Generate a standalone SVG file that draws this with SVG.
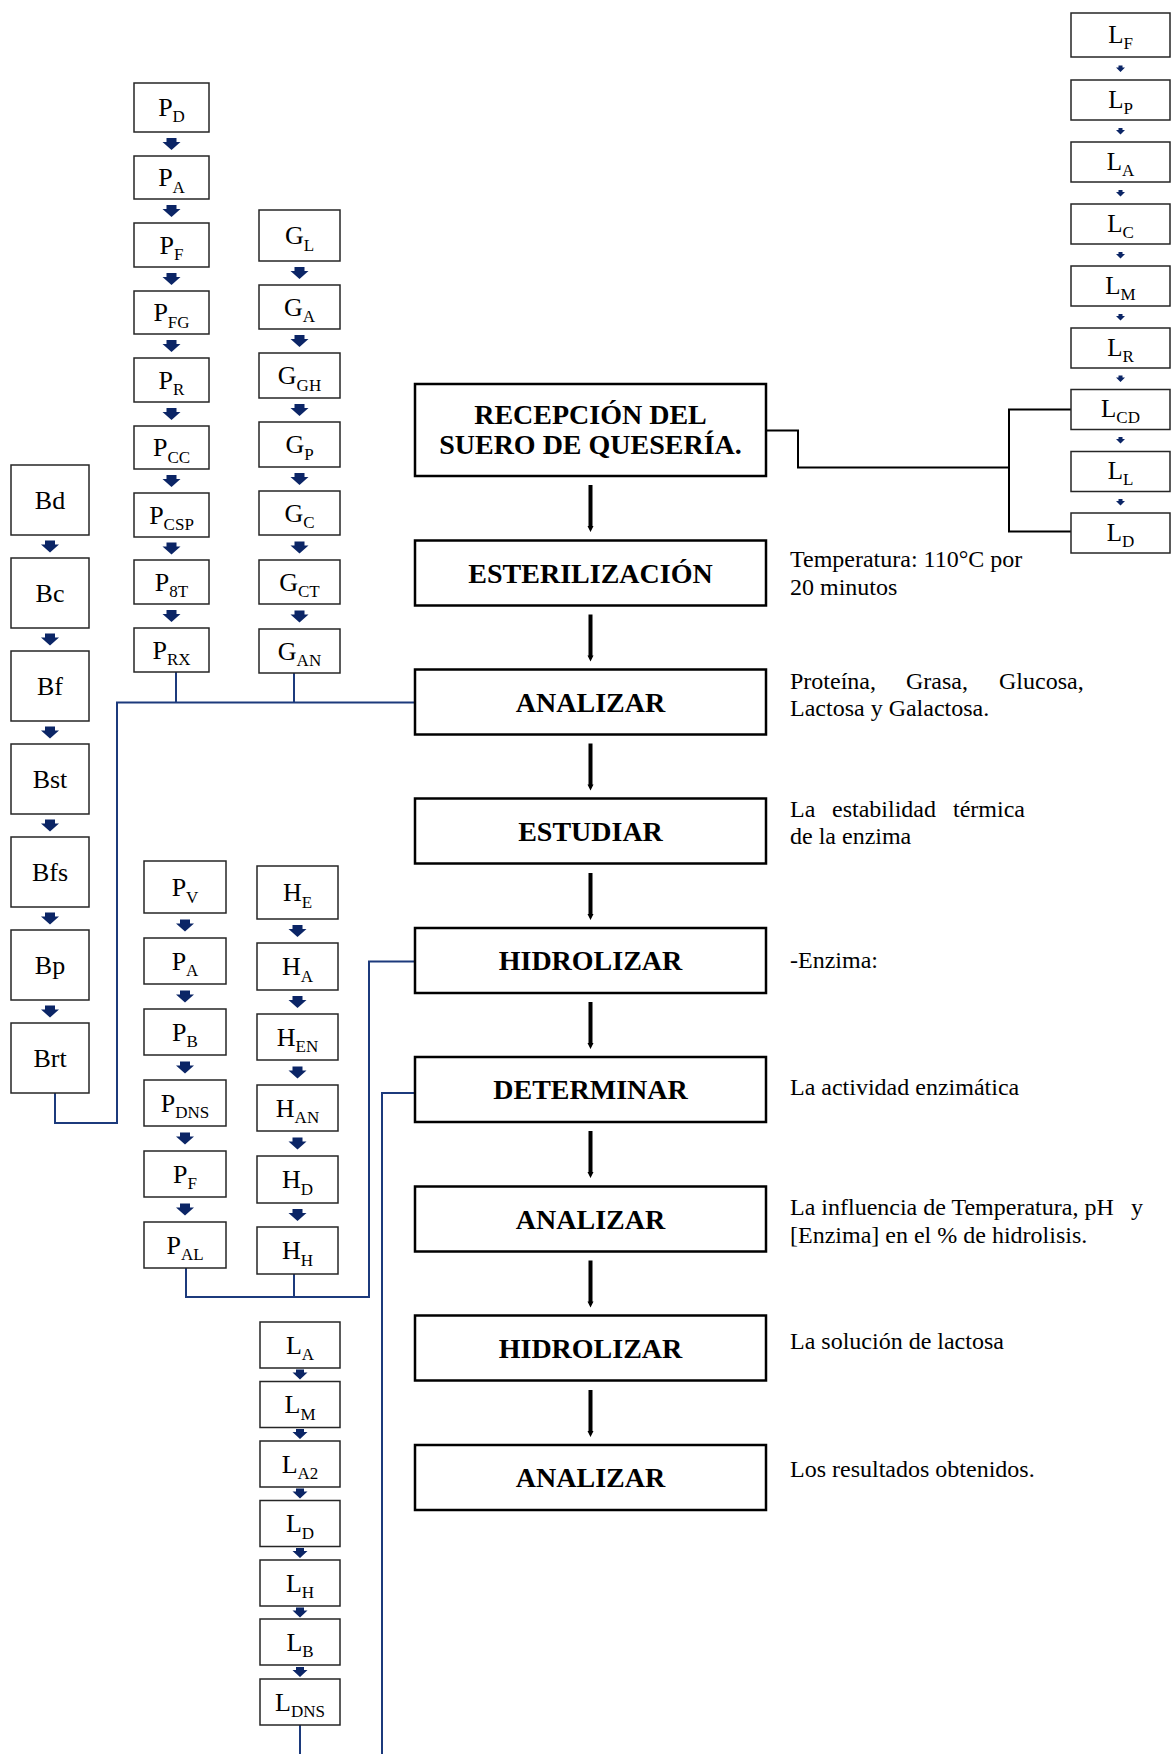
<svg xmlns="http://www.w3.org/2000/svg" xmlns:xlink="http://www.w3.org/1999/xlink" width="1171" height="1754" viewBox="0 0 1171 1754">
<style>
.mb{fill:#fff;stroke:#000;stroke-width:2.5}
.sb{fill:#fff;stroke:#262626;stroke-width:1.5}
.mt{font-family:"Liberation Serif","Times New Roman",serif;font-weight:bold;font-size:28px;text-anchor:middle;fill:#000}
.st{font-family:"Liberation Serif","Times New Roman",serif;font-size:26px;text-anchor:middle;fill:#000}
.sr{font-size:25px}
.sub{font-size:17px}
.bt{font-family:"Liberation Serif","Times New Roman",serif;font-size:26px;text-anchor:middle;fill:#000}
.side{font-family:"Liberation Serif","Times New Roman",serif;font-size:24px;fill:#000}
.bl{fill:none;stroke:#1c3a7c;stroke-width:2}
.bk{fill:none;stroke:#000;stroke-width:2}
.ar{fill:#0b2566}
.ma{fill:#000}
</style>
<defs>
<path id="a18" d="M-5,0 H5 V4 H9 L0,12 L-9,4 H-5 Z"/>
<path id="a15" d="M-4,0 H4 V3 H7.5 L0,10 L-7.5,3 H-4 Z"/>
<path id="a9" d="M-2,0 H2 V2 H4.5 L0,6.5 L-4.5,2 H-2 Z"/>
<path id="am" d="M-2,0 H2 V41 H3 L0,47 L-3,41 H-2 Z"/>
</defs>

<g id="connectors">
  <!-- main flow arrows -->
  <g class="ma">
    <use xlink:href="#am" x="590.5" y="485"/>
    <use xlink:href="#am" x="590.5" y="614.5"/>
    <use xlink:href="#am" x="590.5" y="743.5"/>
    <use xlink:href="#am" x="590.5" y="873"/>
    <use xlink:href="#am" x="590.5" y="1002"/>
    <use xlink:href="#am" x="590.5" y="1131"/>
    <use xlink:href="#am" x="590.5" y="1260.5"/>
    <use xlink:href="#am" x="590.5" y="1390"/>
  </g>
  <!-- reception to L column -->
  <path class="bk" d="M766,430.5 H798 V467.5 H1009"/>
  <path class="bk" d="M1071,409.5 H1009 V531.5 H1071"/>
  <!-- blue connectors -->
  <path class="bl" d="M176,672 V702.5 M294,673 V702.5 M55,1093 V1123 H117 V702.5 H415"/>
  <path class="bl" d="M186,1268 V1297 H369 V961.5 H415 M294,1274 V1297"/>
  <path class="bl" d="M415,1093 H382 V1754"/>
  <path class="bl" d="M300,1725 V1754"/>
  <!-- small blue arrows: P column -->
  <g class="ar">
    <use xlink:href="#a18" x="171.5" y="138"/>
    <use xlink:href="#a18" x="171.5" y="205"/>
    <use xlink:href="#a18" x="171.5" y="273"/>
    <use xlink:href="#a18" x="171.5" y="340"/>
    <use xlink:href="#a18" x="171.5" y="408"/>
    <use xlink:href="#a18" x="171.5" y="475"/>
    <use xlink:href="#a18" x="171.5" y="542.5"/>
    <use xlink:href="#a18" x="171.5" y="610"/>
    <!-- G column -->
    <use xlink:href="#a18" x="299.5" y="267"/>
    <use xlink:href="#a18" x="299.5" y="335"/>
    <use xlink:href="#a18" x="299.5" y="404"/>
    <use xlink:href="#a18" x="299.5" y="473"/>
    <use xlink:href="#a18" x="299.5" y="541.5"/>
    <use xlink:href="#a18" x="299.5" y="610.5"/>
    <!-- B column -->
    <use xlink:href="#a18" x="50" y="540.5"/>
    <use xlink:href="#a18" x="50" y="633.5"/>
    <use xlink:href="#a18" x="50" y="726.5"/>
    <use xlink:href="#a18" x="50" y="819.5"/>
    <use xlink:href="#a18" x="50" y="912.5"/>
    <use xlink:href="#a18" x="50" y="1005.5"/>
    <!-- P2 column -->
    <use xlink:href="#a18" x="185" y="919.5"/>
    <use xlink:href="#a18" x="185" y="990.5"/>
    <use xlink:href="#a18" x="185" y="1061.5"/>
    <use xlink:href="#a18" x="185" y="1132.5"/>
    <use xlink:href="#a18" x="185" y="1203.5"/>
    <!-- H column -->
    <use xlink:href="#a18" x="297.5" y="925"/>
    <use xlink:href="#a18" x="297.5" y="996"/>
    <use xlink:href="#a18" x="297.5" y="1066.5"/>
    <use xlink:href="#a18" x="297.5" y="1137.5"/>
    <use xlink:href="#a18" x="297.5" y="1209"/>
    <!-- L2 column -->
    <use xlink:href="#a15" x="300" y="1369.5"/>
    <use xlink:href="#a15" x="300" y="1429"/>
    <use xlink:href="#a15" x="300" y="1488.5"/>
    <use xlink:href="#a15" x="300" y="1548"/>
    <use xlink:href="#a15" x="300" y="1607.5"/>
    <use xlink:href="#a15" x="300" y="1667"/>
    <!-- L right column -->
    <use xlink:href="#a9" x="1120.5" y="65.5"/>
    <use xlink:href="#a9" x="1120.5" y="128"/>
    <use xlink:href="#a9" x="1120.5" y="190"/>
    <use xlink:href="#a9" x="1120.5" y="252"/>
    <use xlink:href="#a9" x="1120.5" y="314"/>
    <use xlink:href="#a9" x="1120.5" y="375.5"/>
    <use xlink:href="#a9" x="1120.5" y="437"/>
    <use xlink:href="#a9" x="1120.5" y="499"/>
  </g>
</g>

<!-- main process boxes -->
<g id="recepcion"><rect class="mb" x="415" y="384" width="351" height="92"/>
  <text class="mt" x="590.5" y="423.5">RECEPCIÓN DEL</text>
  <text class="mt" x="590.5" y="454">SUERO DE QUESERÍA.</text></g>
<g id="esterilizacion"><rect class="mb" x="415" y="540.5" width="351" height="65"/>
  <text class="mt" x="590.5" y="582.5">ESTERILIZACIÓN</text></g>
<g id="analizar1"><rect class="mb" x="415" y="669.5" width="351" height="65"/>
  <text class="mt" x="590.5" y="711.5">ANALIZAR</text></g>
<g id="estudiar"><rect class="mb" x="415" y="798.5" width="351" height="65"/>
  <text class="mt" x="590.5" y="840.5">ESTUDIAR</text></g>
<g id="hidrolizar1"><rect class="mb" x="415" y="928" width="351" height="65"/>
  <text class="mt" x="590.5" y="970">HIDROLIZAR</text></g>
<g id="determinar"><rect class="mb" x="415" y="1057" width="351" height="65"/>
  <text class="mt" x="590.5" y="1099">DETERMINAR</text></g>
<g id="analizar2"><rect class="mb" x="415" y="1186.5" width="351" height="65"/>
  <text class="mt" x="590.5" y="1228.5">ANALIZAR</text></g>
<g id="hidrolizar2"><rect class="mb" x="415" y="1315.5" width="351" height="65"/>
  <text class="mt" x="590.5" y="1357.5">HIDROLIZAR</text></g>
<g id="analizar3"><rect class="mb" x="415" y="1445" width="351" height="65"/>
  <text class="mt" x="590.5" y="1487">ANALIZAR</text></g>

<!-- side notes -->
<g id="notes" class="side">
  <text x="790" y="567">Temperatura: 110°C por</text>
  <text x="790" y="594.5">20 minutos</text>
  <text y="688.5"><tspan x="790">Proteína,</tspan><tspan x="906">Grasa,</tspan><tspan x="999">Glucosa,</tspan></text>
  <text x="790" y="716">Lactosa y Galactosa.</text>
  <text y="816.5"><tspan x="790">La</tspan><tspan x="832">estabilidad</tspan><tspan x="953">térmica</tspan></text>
  <text x="790" y="844">de la enzima</text>
  <text x="790" y="968">-Enzima:</text>
  <text x="790" y="1095">La actividad enzimática</text>
  <text y="1215"><tspan x="790">La influencia de Temperatura, pH</tspan><tspan x="1131">y</tspan></text>
  <text x="790" y="1242.5">[Enzima] en el % de hidrolisis.</text>
  <text x="790" y="1349">La solución de lactosa</text>
  <text x="790" y="1477">Los resultados obtenidos.</text>
</g>

<!-- P column -->
<g id="p-d"><rect class="sb" x="134" y="83" width="75" height="49"/><text class="st" x="171.5" y="115.5">P<tspan class="sub" dy="6.5">D</tspan></text></g>
<g id="p-a"><rect class="sb" x="134" y="156" width="75" height="43"/><text class="st" x="171.5" y="186">P<tspan class="sub" dy="6.5">A</tspan></text></g>
<g id="p-f"><rect class="sb" x="134" y="223" width="75" height="44"/><text class="st" x="171.5" y="253.5">P<tspan class="sub" dy="6.5">F</tspan></text></g>
<g id="p-fg"><rect class="sb" x="134" y="291" width="75" height="43"/><text class="st" x="171.5" y="321">P<tspan class="sub" dy="6.5">FG</tspan></text></g>
<g id="p-r"><rect class="sb" x="134" y="358" width="75" height="44"/><text class="st" x="171.5" y="388.5">P<tspan class="sub" dy="6.5">R</tspan></text></g>
<g id="p-cc"><rect class="sb" x="134" y="426" width="75" height="43"/><text class="st" x="171.5" y="456">P<tspan class="sub" dy="6.5">CC</tspan></text></g>
<g id="p-csp"><rect class="sb" x="134" y="493" width="75" height="44"/><text class="st" x="171.5" y="523.5">P<tspan class="sub" dy="6.5">CSP</tspan></text></g>
<g id="p-8t"><rect class="sb" x="134" y="560" width="75" height="44"/><text class="st" x="171.5" y="590.5">P<tspan class="sub" dy="6.5">8T</tspan></text></g>
<g id="p-rx"><rect class="sb" x="134" y="628" width="75" height="44"/><text class="st" x="171.5" y="658.5">P<tspan class="sub" dy="6.5">RX</tspan></text></g>

<!-- G column -->
<g id="g-l"><rect class="sb" x="259" y="210" width="81" height="51"/><text class="st" x="299.5" y="244">G<tspan class="sub" dy="6.5">L</tspan></text></g>
<g id="g-a"><rect class="sb" x="259" y="285" width="81" height="44"/><text class="st" x="299.5" y="315.5">G<tspan class="sub" dy="6.5">A</tspan></text></g>
<g id="g-gh"><rect class="sb" x="259" y="353" width="81" height="45"/><text class="st" x="299.5" y="384">G<tspan class="sub" dy="6.5">GH</tspan></text></g>
<g id="g-p"><rect class="sb" x="259" y="422" width="81" height="45"/><text class="st" x="299.5" y="453">G<tspan class="sub" dy="6.5">P</tspan></text></g>
<g id="g-c"><rect class="sb" x="259" y="491" width="81" height="44"/><text class="st" x="299.5" y="521.5">G<tspan class="sub" dy="6.5">C</tspan></text></g>
<g id="g-ct"><rect class="sb" x="259" y="560" width="81" height="44"/><text class="st" x="299.5" y="590.5">G<tspan class="sub" dy="6.5">CT</tspan></text></g>
<g id="g-an"><rect class="sb" x="259" y="629" width="81" height="44"/><text class="st" x="299.5" y="659.5">G<tspan class="sub" dy="6.5">AN</tspan></text></g>

<!-- B column -->
<g id="b-d"><rect class="sb" x="11" y="465" width="78" height="70"/><text class="bt" x="50" y="509">Bd</text></g>
<g id="b-c"><rect class="sb" x="11" y="558" width="78" height="70"/><text class="bt" x="50" y="602">Bc</text></g>
<g id="b-f"><rect class="sb" x="11" y="651" width="78" height="70"/><text class="bt" x="50" y="695">Bf</text></g>
<g id="b-st"><rect class="sb" x="11" y="744" width="78" height="70"/><text class="bt" x="50" y="788">Bst</text></g>
<g id="b-fs"><rect class="sb" x="11" y="837" width="78" height="70"/><text class="bt" x="50" y="881">Bfs</text></g>
<g id="b-p"><rect class="sb" x="11" y="930" width="78" height="70"/><text class="bt" x="50" y="974">Bp</text></g>
<g id="b-rt"><rect class="sb" x="11" y="1023" width="78" height="70"/><text class="bt" x="50" y="1067">Brt</text></g>

<!-- P2 column -->
<g id="p2-v"><rect class="sb" x="144" y="861" width="82" height="52"/><text class="st" x="185" y="896">P<tspan class="sub" dy="6.5">V</tspan></text></g>
<g id="p2-a"><rect class="sb" x="144" y="938" width="82" height="46"/><text class="st" x="185" y="969.5">P<tspan class="sub" dy="6.5">A</tspan></text></g>
<g id="p2-b"><rect class="sb" x="144" y="1009" width="82" height="46"/><text class="st" x="185" y="1040.5">P<tspan class="sub" dy="6.5">B</tspan></text></g>
<g id="p2-dns"><rect class="sb" x="144" y="1080" width="82" height="46"/><text class="st" x="185" y="1111.5">P<tspan class="sub" dy="6.5">DNS</tspan></text></g>
<g id="p2-f"><rect class="sb" x="144" y="1151" width="82" height="46"/><text class="st" x="185" y="1182.5">P<tspan class="sub" dy="6.5">F</tspan></text></g>
<g id="p2-al"><rect class="sb" x="144" y="1222" width="82" height="46"/><text class="st" x="185" y="1253.5">P<tspan class="sub" dy="6.5">AL</tspan></text></g>

<!-- H column -->
<g id="h-e"><rect class="sb" x="257" y="866" width="81" height="53"/><text class="st" x="297.5" y="901">H<tspan class="sub" dy="6.5">E</tspan></text></g>
<g id="h-a"><rect class="sb" x="257" y="943" width="81" height="47"/><text class="st" x="297.5" y="975">H<tspan class="sub" dy="6.5">A</tspan></text></g>
<g id="h-en"><rect class="sb" x="257" y="1014" width="81" height="46"/><text class="st" x="297.5" y="1045.5">H<tspan class="sub" dy="6.5">EN</tspan></text></g>
<g id="h-an"><rect class="sb" x="257" y="1085" width="81" height="46"/><text class="st" x="297.5" y="1116.5">H<tspan class="sub" dy="6.5">AN</tspan></text></g>
<g id="h-d"><rect class="sb" x="257" y="1156" width="81" height="47"/><text class="st" x="297.5" y="1188">H<tspan class="sub" dy="6.5">D</tspan></text></g>
<g id="h-h"><rect class="sb" x="257" y="1227" width="81" height="47"/><text class="st" x="297.5" y="1259">H<tspan class="sub" dy="6.5">H</tspan></text></g>

<!-- L2 column -->
<g id="l2-a"><rect class="sb" x="260" y="1322" width="80" height="46"/><text class="st" x="300" y="1353.5">L<tspan class="sub" dy="6.5">A</tspan></text></g>
<g id="l2-m"><rect class="sb" x="260" y="1381.5" width="80" height="46"/><text class="st" x="300" y="1413">L<tspan class="sub" dy="6.5">M</tspan></text></g>
<g id="l2-a2"><rect class="sb" x="260" y="1441" width="80" height="46"/><text class="st" x="300" y="1472.5">L<tspan class="sub" dy="6.5">A2</tspan></text></g>
<g id="l2-d"><rect class="sb" x="260" y="1500.5" width="80" height="46"/><text class="st" x="300" y="1532">L<tspan class="sub" dy="6.5">D</tspan></text></g>
<g id="l2-h"><rect class="sb" x="260" y="1560" width="80" height="46"/><text class="st" x="300" y="1591.5">L<tspan class="sub" dy="6.5">H</tspan></text></g>
<g id="l2-b"><rect class="sb" x="260" y="1619" width="80" height="46"/><text class="st" x="300" y="1650.5">L<tspan class="sub" dy="6.5">B</tspan></text></g>
<g id="l2-dns"><rect class="sb" x="260" y="1679" width="80" height="46"/><text class="st" x="300" y="1710.5">L<tspan class="sub" dy="6.5">DNS</tspan></text></g>

<!-- L right column -->
<g id="lr-f"><rect class="sb" x="1071" y="13" width="99" height="44"/><text class="st sr" x="1120.5" y="42.5">L<tspan class="sub" dy="6">F</tspan></text></g>
<g id="lr-p"><rect class="sb" x="1071" y="80" width="99" height="40"/><text class="st sr" x="1120.5" y="107.5">L<tspan class="sub" dy="6">P</tspan></text></g>
<g id="lr-a"><rect class="sb" x="1071" y="142" width="99" height="40"/><text class="st sr" x="1120.5" y="169.5">L<tspan class="sub" dy="6">A</tspan></text></g>
<g id="lr-c"><rect class="sb" x="1071" y="204" width="99" height="40"/><text class="st sr" x="1120.5" y="231.5">L<tspan class="sub" dy="6">C</tspan></text></g>
<g id="lr-m"><rect class="sb" x="1071" y="266" width="99" height="40"/><text class="st sr" x="1120.5" y="293.5">L<tspan class="sub" dy="6">M</tspan></text></g>
<g id="lr-r"><rect class="sb" x="1071" y="328" width="99" height="40"/><text class="st sr" x="1120.5" y="355.5">L<tspan class="sub" dy="6">R</tspan></text></g>
<g id="lr-cd"><rect class="sb" x="1071" y="389.5" width="99" height="40"/><text class="st sr" x="1120.5" y="417">L<tspan class="sub" dy="6">CD</tspan></text></g>
<g id="lr-l"><rect class="sb" x="1071" y="451.5" width="99" height="40"/><text class="st sr" x="1120.5" y="479">L<tspan class="sub" dy="6">L</tspan></text></g>
<g id="lr-d"><rect class="sb" x="1071" y="513" width="99" height="40"/><text class="st sr" x="1120.5" y="540.5">L<tspan class="sub" dy="6">D</tspan></text></g>
</svg>
